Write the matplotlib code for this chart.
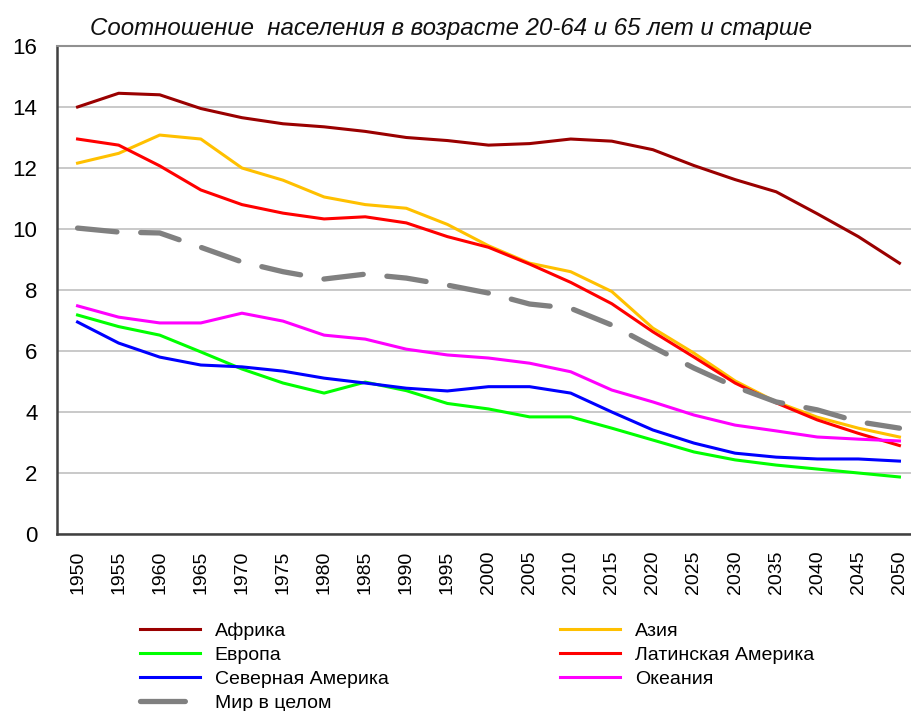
import numpy as np
import matplotlib
matplotlib.use("Agg")
import matplotlib.pyplot as plt
from matplotlib.lines import Line2D

plt.rcParams['font.family'] = ['Liberation Sans', 'DejaVu Sans']

years = [str(y) for y in range(1950, 2051, 5)]

africa = [14.0, 14.45, 14.4, 13.95, 13.65, 13.45, 13.35, 13.2, 13.0, 12.9, 12.75,
          12.8, 12.95, 12.88, 12.6, 12.08, 11.62, 11.22, 10.5, 9.75, 8.88]
asia = [12.16, 12.48, 13.08, 12.95, 12.0, 11.6, 11.05, 10.8, 10.68, 10.15, 9.45,
        8.88, 8.6, 7.95, 6.75, 5.93, 5.02, 4.33, 3.83, 3.47, 3.18]
europe = [7.18, 6.8, 6.52, 5.97, 5.41, 4.95, 4.62, 4.98, 4.7, 4.28, 4.1,
          3.84, 3.84, 3.47, 3.08, 2.69, 2.43, 2.26, 2.13, 2.0, 1.87]
latam = [12.95, 12.75, 12.07, 11.28, 10.8, 10.52, 10.33, 10.4, 10.2, 9.75, 9.4,
         8.85, 8.25, 7.55, 6.63, 5.8, 4.95, 4.3, 3.74, 3.3, 2.9]
north_am = [6.95, 6.26, 5.8, 5.54, 5.48, 5.34, 5.11, 4.95, 4.78, 4.69, 4.83,
            4.83, 4.62, 4.0, 3.41, 2.98, 2.65, 2.52, 2.46, 2.46, 2.39]
oceania = [7.48, 7.11, 6.92, 6.92, 7.24, 6.98, 6.52, 6.39, 6.06, 5.87, 5.77,
           5.6, 5.32, 4.72, 4.33, 3.9, 3.57, 3.38, 3.18, 3.11, 3.05]
world = [10.03, 9.9, 9.87, 9.4, 8.92, 8.6, 8.36, 8.52, 8.39, 8.16, 7.9,
         7.54, 7.4, 6.85, 6.13, 5.44, 4.83, 4.33, 4.07, 3.68, 3.47]

fig = plt.figure(figsize=(9.12, 7.11), dpi=100)
ax = fig.add_axes([57 / 912, 177 / 711, (920 - 57) / 912, 488 / 711])

x = np.arange(len(years))
lw = 2.2
ax.plot(x, africa, color='#9A0000', lw=lw, label='Африка')
ax.plot(x, asia, color='#FFC000', lw=lw, label='Азия')
ax.plot(x, europe, color='#00FF00', lw=lw, label='Европа')
ax.plot(x, latam, color='#FF0000', lw=lw, label='Латинская Америка')
ax.plot(x, north_am, color='#0000FF', lw=lw, label='Северная Америка')
ax.plot(x, oceania, color='#FF00FF', lw=lw, label='Океания')
ax.plot(x, world, color='#808080', lw=3.8, linestyle=(0, (7.5, 4.5)),
        dash_capstyle='round', label='Мир в целом')

ax.set_xlim(-0.5, len(years) - 0.5)
ax.set_ylim(0, 16)
ax.set_yticks(np.arange(0, 17, 2))
ax.set_xticks(x)
ax.set_xticklabels(years, rotation=90)
ax.tick_params(axis='y', length=0, pad=14, labelsize=16)
ax.tick_params(axis='x', length=0, pad=12, labelsize=14)
ax.yaxis.grid(True, color='#C0C0C0', lw=1.2)
ax.set_axisbelow(True)

ax.spines['left'].set_color('#404040')
ax.spines['left'].set_linewidth(1.8)
ax.spines['bottom'].set_color('#404040')
ax.spines['bottom'].set_linewidth(1.8)
ax.spines['top'].set_color('#909090')
ax.spines['top'].set_linewidth(1.5)
ax.spines['right'].set_visible(False)

fig.text(90 / 912, 1 - 28 / 711, 'Соотношение  населения в возрасте 20-64 и 65 лет и старше',
         fontsize=17.3, style='italic', va='center', ha='left', color='#101010')

h, l = ax.get_legend_handles_labels()
# short single dash for the world entry, as in the original legend
h[6] = Line2D([], [], color='#808080', lw=3.8, linestyle=(0, (8.5, 30)),
              dash_capstyle='round')
leg_font = {'family': ['Liberation Sans Narrow', 'Liberation Sans'], 'size': 14}
col1 = [0, 2, 4, 6]
col2 = [1, 3, 5]
fig.legend([h[i] for i in col1], [l[i] for i in col1], loc='upper left',
           bbox_to_anchor=(140 / 912, 1 - 622 / 711), frameon=False, borderpad=0,
           borderaxespad=0, handlelength=3.1, handletextpad=0.75, labelspacing=0.33,
           prop=leg_font)
fig.legend([h[i] for i in col2], [l[i] for i in col2], loc='upper left',
           bbox_to_anchor=(560 / 912, 1 - 622 / 711), frameon=False, borderpad=0,
           borderaxespad=0, handlelength=3.1, handletextpad=0.75, labelspacing=0.33,
           prop=leg_font)

fig.savefig('out.png', dpi=100)
